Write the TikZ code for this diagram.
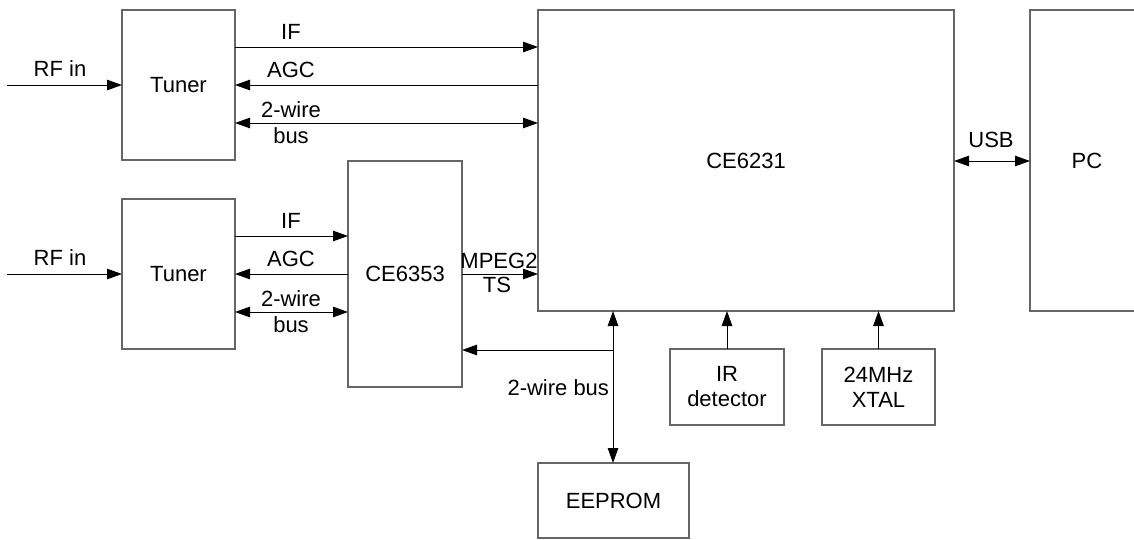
\documentclass[tikz,border=0pt]{standalone}
\usepackage{fontspec}
\setmainfont{Liberation Sans}
\usetikzlibrary{arrows.meta}
\begin{document}
\begin{tikzpicture}[x=1pt,y=-1pt,
  box/.style={draw=black!60,line width=1.2pt,inner sep=0pt,outer sep=0pt,align=center,font=\fontsize{22}{25}\selectfont},
  lbl/.style={inner sep=0pt,outer sep=0pt,font=\fontsize{22}{25}\selectfont},
  arr/.style={line width=1pt,-{Triangle[length=15pt,width=10.5pt]}},
  darr/.style={line width=1pt,{Triangle[length=15pt,width=10.5pt]}-{Triangle[length=15pt,width=10.5pt]}}]
\useasboundingbox (0,0) rectangle (1134,539);
\clip (0,0) rectangle (1134,539);

% boxes
\node[box,minimum width=113pt,minimum height=150pt] (tuner1) at (178.5,85) {Tuner};
\node[box,minimum width=113pt,minimum height=150pt] (tuner2) at (178.5,274) {Tuner};
\node[box,minimum width=114pt,minimum height=226pt] (ce6353) at (405,274) {CE6353};
\node[box,minimum width=416pt,minimum height=301pt] (ce6231) at (746,160.5) {CE6231};
\node[box,minimum width=150pt,minimum height=301pt] (pc) at (1105,160.5) {};
\node[lbl] (pclbl) at (1087,160.5) {PC};
\node[box,minimum width=114pt,minimum height=76pt] (ir) at (727,387) {IR\\detector};
\node[box,minimum width=113pt,minimum height=76pt] (xtal) at (878.5,387) {24MHz\\XTAL};
\node[box,minimum width=151pt,minimum height=75pt] (eeprom) at (613.5,500.5) {EEPROM};

% free ends
\coordinate (rf1) at (7,85);
\coordinate (rf2) at (7,274);
\coordinate (br) at (613,350);

% top tuner
\draw[arr] (rf1) -- (tuner1.west |- rf1);
\node[lbl,anchor=base] (rflbl1) at (60,76) {RF in};
\draw[arr] (tuner1.east |- 0,47) -- (ce6231.west |- 0,47);
\node[lbl,anchor=base] (if1) at (291,39) {IF};
\draw[arr] (ce6231.west |- 0,85) -- (tuner1.east |- 0,85);
\node[lbl,anchor=base] (agc1) at (291,77) {AGC};
\draw[darr] (tuner1.east |- 0,123) -- (ce6231.west |- 0,123);
\node[lbl,anchor=base] (tw1) at (291,117) {2-wire};
\node[lbl,anchor=base] (bus1) at (291,143) {bus};

% bottom tuner
\draw[arr] (rf2) -- (tuner2.west |- rf2);
\node[lbl,anchor=base] (rflbl2) at (60,265) {RF in};
\draw[arr] (tuner2.east |- 0,236) -- (ce6353.west |- 0,236);
\node[lbl,anchor=base] (if2) at (291,228) {IF};
\draw[arr] (ce6353.west |- 0,274) -- (tuner2.east |- 0,274);
\node[lbl,anchor=base] (agc2) at (291,266) {AGC};
\draw[darr] (tuner2.east |- 0,312) -- (ce6353.west |- 0,312);
\node[lbl,anchor=base] (tw2) at (291,306) {2-wire};
\node[lbl,anchor=base] (bus2) at (291,332) {bus};

% MPEG2 TS
\draw[arr] (ce6353.east |- 0,274) -- (ce6231.west |- 0,274);
\node[lbl,anchor=base] (mpeg) at (499,268) {MPEG2};
\node[lbl,anchor=base] (ts) at (497,292) {TS};

% USB
\draw[darr] (ce6231.east |- 0,161) -- (pc.west |- 0,161);
\node[lbl,anchor=base] (usb) at (991,147) {USB};

% 2-wire bus to EEPROM and CE6353
\draw[darr] (eeprom.north -| br) -- (ce6231.south -| br);
\draw[arr] (br) -- (ce6353.east |- br);
\node[lbl,anchor=base east] (twb) at (609,395) {2-wire bus};

% IR and XTAL
\draw[arr] (ir.north) -- (ir.north |- ce6231.south);
\draw[arr] (xtal.north) -- (xtal.north |- ce6231.south);
\end{tikzpicture}
\end{document}
